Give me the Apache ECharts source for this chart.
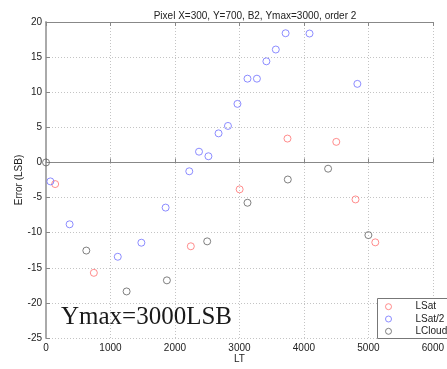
<!DOCTYPE html>
<html>
<head>
<meta charset="utf-8">
<script src="https://cdn.jsdelivr.net/npm/echarts@6/dist/echarts.min.js"></script>
<style>
  html, body { margin: 0; padding: 0; background: #fff; }
  #chart { width: 447px; height: 369px; }
</style>
</head>
<body>
<div id="chart"></div>
<script>
// Fit error versus LT for the three calibration sets
const lsatLT   = [142, 742, 2246, 3003, 3745, 4502, 4800, 5107];
const lsatErr  = [-3.08, -15.72, -11.94, -3.83, 3.4, 2.93, -5.27, -11.38];

const lsat2LT  = [68, 366, 1113, 1479, 1855, 2222, 2373, 2519, 2676, 2822, 2969, 3125, 3271, 3418, 3564, 3716, 4087, 4829];
const lsat2Err = [-2.7, -8.81, -13.43, -11.43, -6.43, -1.26, 1.53, 0.88, 4.14, 5.2, 8.34, 11.93, 11.93, 14.4, 16.08, 18.4, 18.36, 11.19];

const lcloudLT  = [0, 625, 1250, 1875, 2500, 3125, 3750, 4375, 5000];
const lcloudErr = [0, -12.55, -18.37, -16.79, -11.24, -5.74, -2.43, -0.89, -10.35];

const xTicks = [0, 1000, 2000, 3000, 4000, 5000, 6000];
const yTicks = [-25, -20, -15, -10, -5, 0, 5, 10, 15, 20];

const seriesNames = ['LSat', 'LSat/2', 'LCloud'];
const seriesColors = ['#ff7070', '#7070ff', '#606060'];

function pairs(xs, ys) { return xs.map((x, i) => [x, ys[i]]); }

const chart = echarts.init(document.getElementById('chart'), null, { renderer: 'canvas' });

const labelFont = { fontFamily: 'Liberation Sans, Arial, sans-serif', fontSize: 10, color: '#222' };
const plain = v => String(v);

function scatter(name, xs, ys, color) {
  return {
    name: name,
    type: 'scatter',
    data: pairs(xs, ys),
    symbol: 'circle',
    symbolSize: 7,
    clip: false,
    itemStyle: { color: 'rgba(255,255,255,0)', borderColor: color, borderWidth: 1 },
    emphasis: { disabled: true }
  };
}

chart.setOption({
  animation: false,
  backgroundColor: '#fff',
  title: {
    text: 'Pixel X=300, Y=700, B2, Ymax=3000, order 2',
    left: 250,
    top: 6,
    textAlign: 'center',
    textStyle: { fontFamily: 'Liberation Sans, Arial, sans-serif', fontSize: 10, fontWeight: 'normal', color: '#222' }
  },
  grid: { left: 46, top: 22, width: 409, height: 322, show: false },
  xAxis: [{
    type: 'value',
    min: xTicks[0], max: xTicks[xTicks.length - 1], interval: 1000,
    name: 'LT', nameLocation: 'middle', nameGap: 16, nameMoveOverlap: false,
    nameTextStyle: labelFont,
    axisLine: { show: true, lineStyle: { color: '#888', width: 1 } },
    axisTick: { show: true, inside: true, length: 4, lineStyle: { color: '#888' } },
    axisLabel: Object.assign({ margin: 5, formatter: plain }, labelFont),
    splitLine: { show: true, lineStyle: { color: '#c4c4c4', type: [1, 2], width: 1 } }
  }, {
    type: 'value', position: 'top',
    min: xTicks[0], max: xTicks[xTicks.length - 1], interval: 1000,
    axisLine: { show: true, lineStyle: { color: '#888', width: 1 } },
    axisTick: { show: true, inside: true, length: 4, lineStyle: { color: '#888' } },
    axisLabel: { show: false },
    splitLine: { show: false }
  }],
  yAxis: {
    type: 'value',
    min: yTicks[0], max: yTicks[yTicks.length - 1], interval: 5,
    name: 'Error (LSB)', nameLocation: 'middle', nameGap: 22, nameRotate: 90, nameMoveOverlap: false,
    nameTextStyle: labelFont,
    axisLine: { show: true, lineStyle: { color: '#aaa', width: 2 } },
    axisTick: { show: true, inside: true, length: 4, lineStyle: { color: '#888' } },
    axisLabel: Object.assign({ margin: 4, formatter: plain }, labelFont),
    splitLine: { show: true, lineStyle: { color: '#c4c4c4', type: [1, 2], width: 1 } }
  },
  legend: {
    data: seriesNames.map((n, i) => ({
      name: n, icon: 'circle',
      itemStyle: { color: 'rgba(255,255,255,0)', borderColor: seriesColors[i], borderWidth: 1 }
    })),
    orient: 'vertical',
    left: 385, top: 300.7,
    padding: 0,
    itemWidth: 6, itemHeight: 6, itemGap: 0.3,
    z: 10,
    selectedMode: false,
    textStyle: { fontFamily: 'Liberation Sans, Arial, sans-serif', fontSize: 10, color: '#222', lineHeight: 12, padding: [0, 0, 0, 19] }
  },
  graphic: [
    {
      type: 'rect', z: 5,
      shape: { x: 377.5, y: 298.5, width: 90, height: 40 },
      style: { fill: '#fff', stroke: '#777', lineWidth: 1 }
    },
    {
      type: 'text', z: 5,
      style: { text: 'Ymax=3000LSB', x: 61, y: 317, verticalAlign: 'middle', fill: '#1a1a1a',
               font: '25px "Liberation Serif", "Times New Roman", serif' }
    }
  ],
  series: [
    scatter(seriesNames[0], lsatLT, lsatErr, seriesColors[0]),
    scatter(seriesNames[1], lsat2LT, lsat2Err, seriesColors[1]),
    scatter(seriesNames[2], lcloudLT, lcloudErr, seriesColors[2])
  ]
});
</script>
</body>
</html>
